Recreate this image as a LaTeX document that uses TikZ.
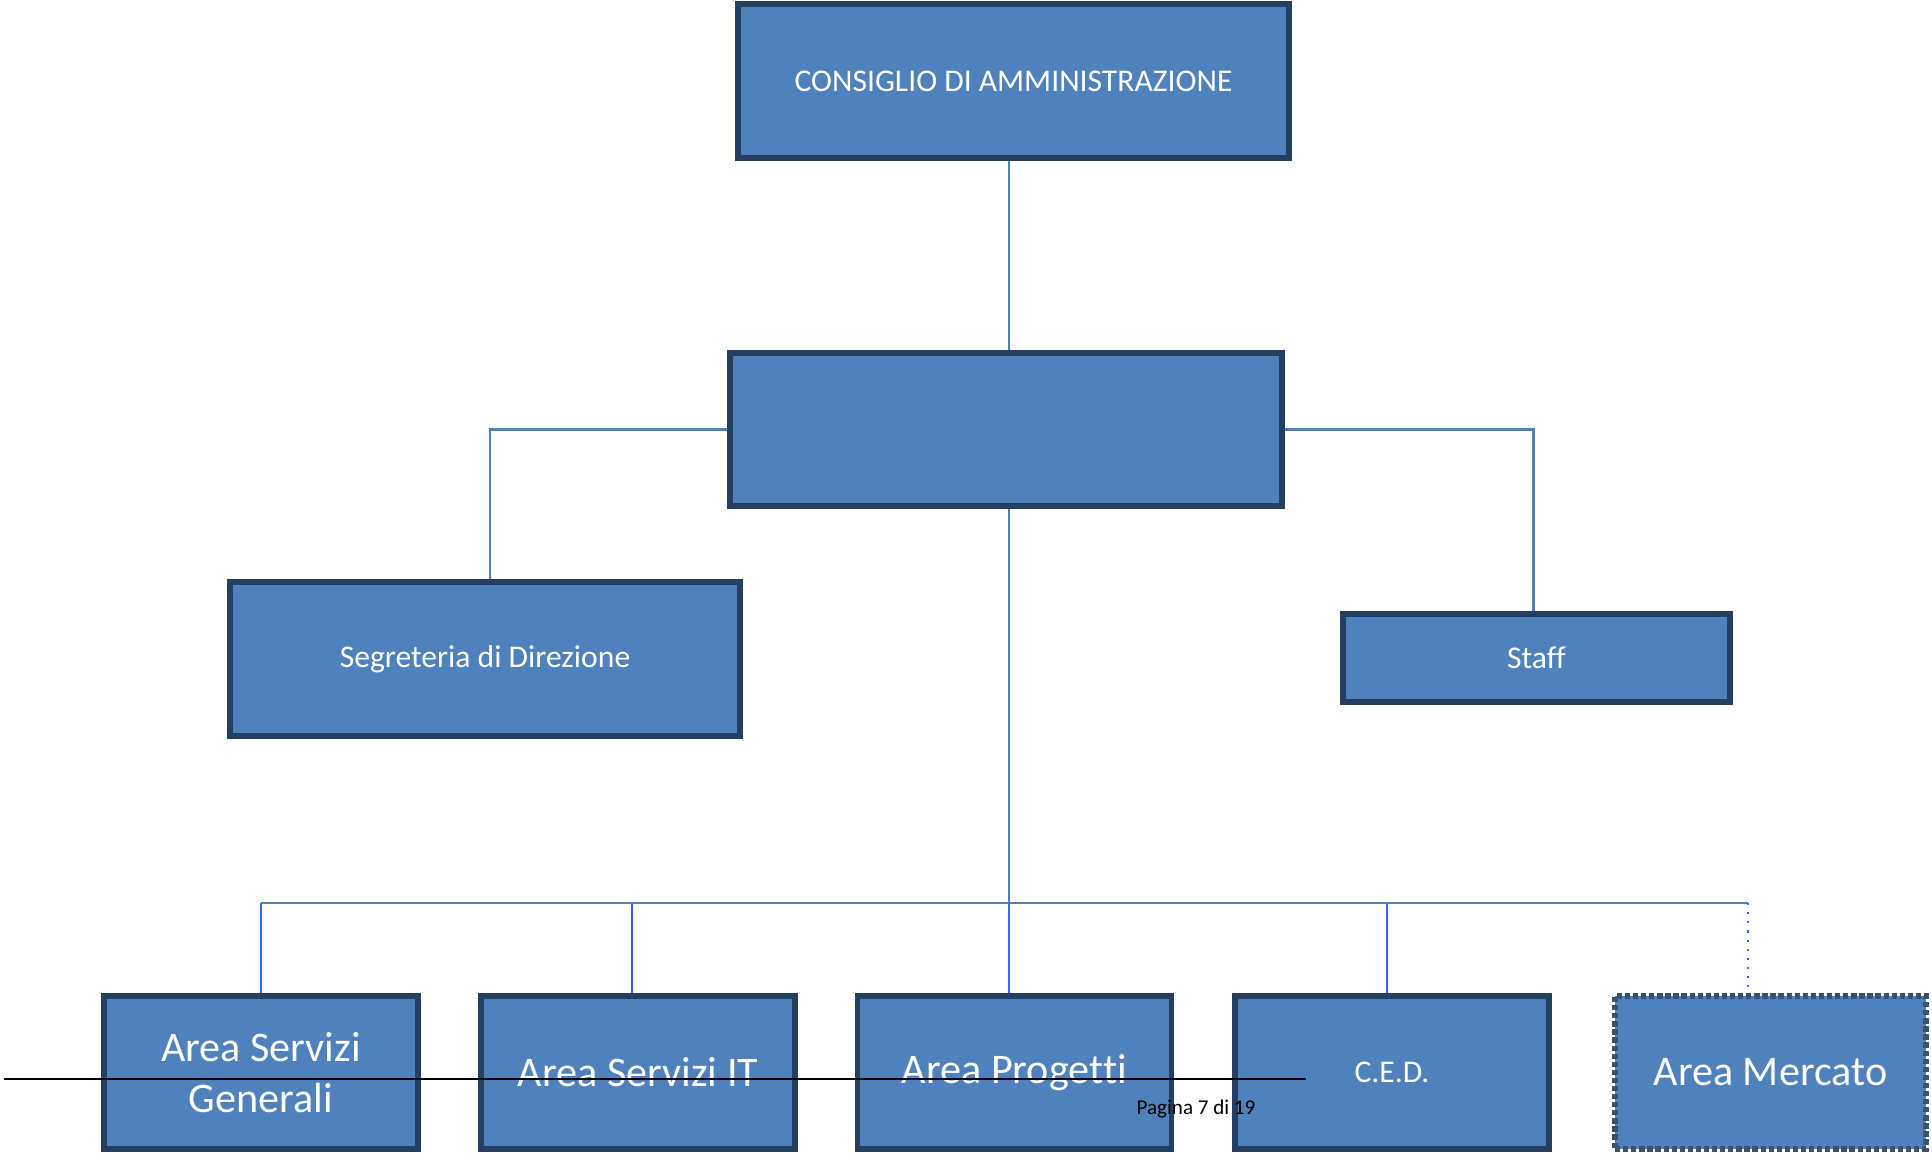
\documentclass[tikz,border=0pt]{standalone}
\usepackage{fontspec}
\setmainfont{Carlito}[Ligatures=NoCommon]
\usetikzlibrary{positioning, calc}
\definecolor{boxfill}{HTML}{4F81BD}
\definecolor{boxline}{HTML}{243F60}
\definecolor{droplinecol}{HTML}{3366FF}

\begin{document}
\begin{tikzpicture}[
    unit/.style={rectangle, minimum width=5.5cm, minimum height=1.53cm, text centered, draw=boxline, line width=1.6pt, fill=boxfill, text=white, font=\fontsize{9}{11}\selectfont, inner sep=0pt},
    area/.style={unit, minimum width=3.14cm, font=\fontsize{12}{14.4}\selectfont, align=center},
    link/.style={draw=boxfill, line width=0.6pt},
    droplink/.style={draw=droplinecol, line width=0.6pt}
]
\useasboundingbox (0,0) rectangle (19.32,-11.55);

% nodi
\node (cda) [unit, minimum width=5.51cm, minimum height=1.54cm] at (10.135,-0.81) {CONSIGLIO DI AMMINISTRAZIONE};
\node (dir) [unit, minimum width=5.52cm] at (10.06,-4.295) {};
\node (segr) [unit, minimum width=5.10cm, minimum height=1.54cm] at (4.85,-6.59) {Segreteria di Direzione};
\node (staff) [unit, minimum width=3.87cm, minimum height=0.88cm] at (15.365,-6.58) {Staff};

\node (asg) [area] at (2.61,-10.725) {Area Servizi\\Generali};
\node (asit) [area] at (6.38,-10.725) {Area Servizi IT};
\node (prog) [area] at (10.145,-10.725) {Area Proget\kern0pt{}ti};
\node (ced) [area, font=\fontsize{9}{11}\selectfont] at (13.92,-10.725) {C.E.D.};
\node (merc) [area, minimum width=3.11cm, draw=boxline!90!white, line width=1.5pt, dash pattern=on 1.5pt off 0.8pt] at (17.705,-10.725) {Area Mercato};

% collegamenti
\coordinate (bus) at (10.09,-9.03);
\coordinate (mercdrop) at (17.48,-9.03);
\draw [link] (cda.south -| bus) -- (dir.north -| bus);
\draw [link] (dir.west) -| ([xshift=0.05cm]segr.north);
\draw [link] (dir.east) -| ([xshift=-0.03cm]staff.north);
\draw [link] (dir.south -| bus) -- (bus);
\draw [link] (asg.north |- bus) -- (mercdrop);
\draw [droplink] (asg.north |- bus) -- (asg.north);
\draw [droplink] ([xshift=-0.06cm]asit.north |- bus) -- ([xshift=-0.06cm]asit.north);
\draw [droplink] (bus) -- (prog.north -| bus);
\draw [droplink] ([xshift=-0.05cm]ced.north |- bus) -- ([xshift=-0.05cm]ced.north);
\draw [droplink, dotted] (mercdrop) -- (mercdrop |- merc.north);

% pie di pagina
\draw [line width=0.6pt] (0.04,-10.79) -- (13.06,-10.79);
\node (pagina) [font=\fontsize{6}{7}\selectfont] at (11.96,-11.09) {Pagina 7 di 19};

\end{tikzpicture}
\end{document}
